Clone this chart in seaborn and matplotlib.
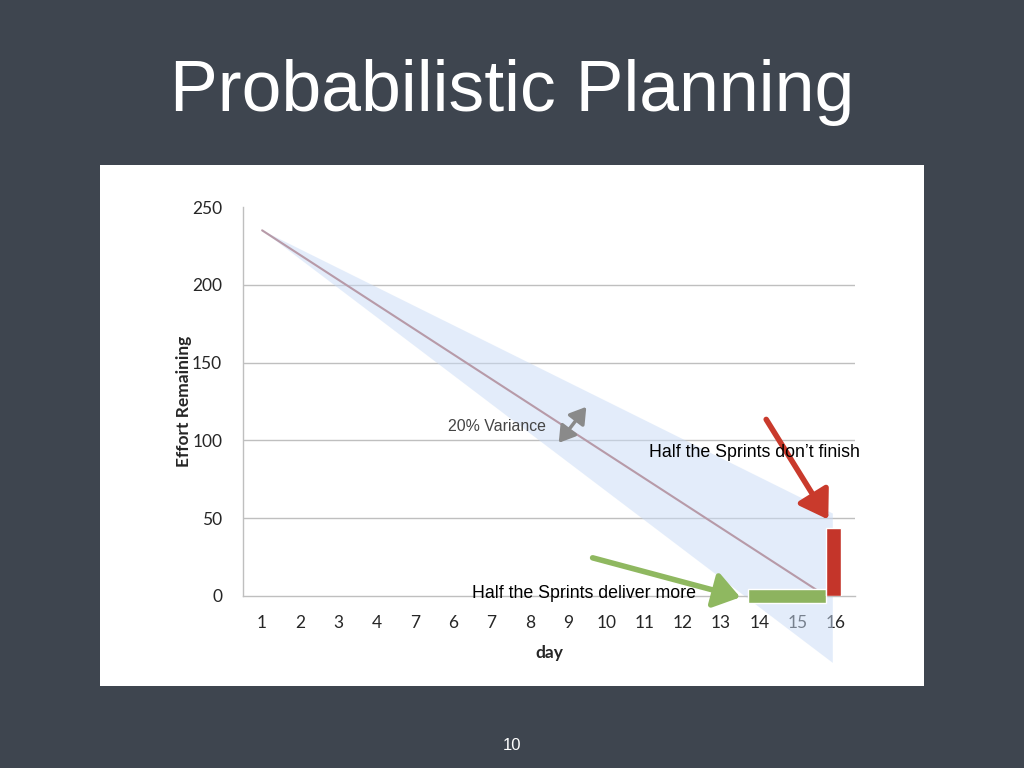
import matplotlib
matplotlib.use("Agg")
import matplotlib.pyplot as plt
from matplotlib.patches import Polygon, FancyArrowPatch
import seaborn as sns
import numpy as np

# ---- data ----
day_labels = ["1", "2", "3", "4", "7", "6", "7", "8", "9", "10", "11", "12", "13", "14", "15", "16"]
y_ticks = [0, 50, 100, 150, 200, 250]
ideal_x = [0, 14.74]          # category positions of the ideal burndown
ideal_y = [235, 0]
band_x = [0, 14.92, 14.92]    # variance cone
band_y = [235, 53, -43]
over_start, over_end, over_height = 12.7, 14.74, 9     # green "deliver more" bar
under_pos, under_value = 14.93, 44                     # red "don't finish" bar

title = "Probabilistic Planning"
page_number = "10"

# ---- figure ----
sns.set_style("white")
plt.rcParams['font.family'] = ['Liberation Sans', 'DejaVu Sans']
fig = plt.figure(figsize=(10.24, 7.68), dpi=100)
fig.patch.set_facecolor("#3e454f")

fig.text(0.5, 1 - 92 / 768, title, ha="center", va="center", color="white",
         fontsize=51.5, family="Liberation Sans")
fig.text(0.5, 1 - 745 / 768, page_number, ha="center", va="center", color="white",
         fontsize=12)

# white panel
bg = fig.add_axes([100 / 1024, 1 - 686 / 768, 824 / 1024, 521 / 768], zorder=-1)
bg.set_facecolor("white")
bg.set_xticks([]); bg.set_yticks([])
for s in bg.spines.values():
    s.set_visible(False)

ax = fig.add_axes([243 / 1024, 1 - 596 / 768, 612 / 1024, 389 / 768], zorder=1)
ax.set_facecolor("none")
ax.set_xlim(-0.5, 15.5)
ax.set_ylim(0, 250)

# gridlines
for v in y_ticks[1:-1]:
    ax.axhline(v, color="#bfbfbf", lw=1, zorder=0.5)

sns.lineplot(x=ideal_x, y=ideal_y, ax=ax, color="#b79aa8", lw=1.5, zorder=2)

band = Polygon(list(zip(band_x, band_y)), closed=True, facecolor="#c9dbf6",
               edgecolor="none", alpha=0.5, zorder=1.6, clip_on=False)
ax.add_patch(band)

ax.barh([0], [over_end - over_start], left=[over_start], height=over_height,
        color="#8db35f", zorder=3, clip_on=False)
ax.bar([under_pos], [under_value], width=0.39, color="#c4352a", zorder=3)

# arrows
ax.add_patch(FancyArrowPatch((13.14, 115), (14.84, 47.6), arrowstyle="-|>,head_length=14,head_width=9",
                             color="#c93a2c", lw=4, zorder=4, clip_on=False, mutation_scale=1.2))
ax.add_patch(FancyArrowPatch((8.57, 25), (12.57, -1.3), arrowstyle="-|>,head_length=13,head_width=9",
                             color="#8fb860", lw=4, zorder=4, clip_on=False, mutation_scale=1.2))
ax.add_patch(FancyArrowPatch((7.71, 97), (8.52, 123), arrowstyle="<|-|>,head_length=8,head_width=5",
                             color="#8a8a8a", lw=2.5, zorder=4, clip_on=False, mutation_scale=1.2))

ax.text(6.14, 109, "20% Variance", ha="center", va="center", fontsize=11.4, color="#444444", zorder=5)
ax.text(12.86, 92.5, "Half the Sprints don\u2019t finish", ha="center", va="center",
        fontsize=12.8, color="black", zorder=5)
ax.text(8.41, 1.3, "Half the Sprints deliver more", ha="center", va="center",
        fontsize=12.8, color="black", zorder=5, clip_on=False)

# axes styling
ax.set_xticks(range(len(day_labels)))
ax.set_xticklabels(day_labels, family="Lato", fontsize=12.5)
ax.set_xticks(np.arange(-0.5, 15.6, 1), minor=True)
ax.tick_params(axis="x", which="major", length=0, pad=14)
ax.tick_params(axis="x", which="minor", length=5, color="#bfbfbf", direction="out")
ax.set_yticks(y_ticks)
ax.set_yticklabels([str(v) for v in y_ticks], family="Lato", fontsize=12.5)
ax.tick_params(axis="y", length=0, pad=15)
for s in ["top", "right"]:
    ax.spines[s].set_visible(False)
for s in ["left", "bottom"]:
    ax.spines[s].set_color("#bfbfbf")
    ax.spines[s].set_linewidth(1)
ax.xaxis.set_zorder(1.5)
ax.set_xlabel("day", family="Lato", fontweight="bold", fontsize=12.5, labelpad=10)
ax.set_ylabel("Effort Remaining", family="Lato", fontweight="bold", fontsize=12.5, labelpad=0)

fig.savefig("out.png", dpi=100, facecolor=fig.get_facecolor())
